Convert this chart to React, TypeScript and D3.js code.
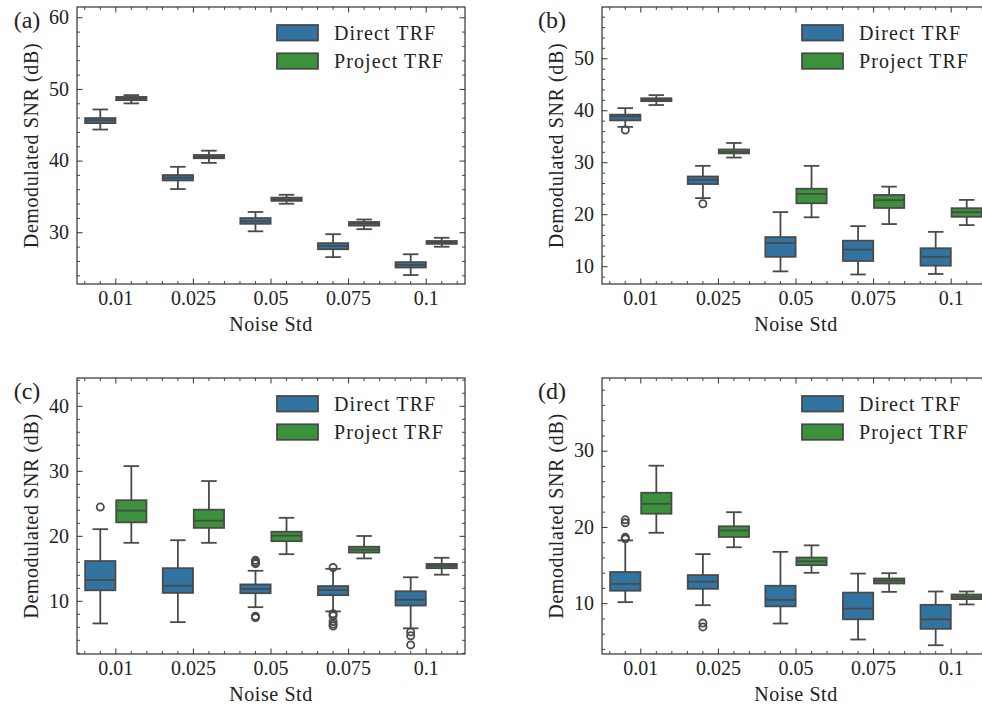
import * as d3 from 'd3';

const categories = ['0.01', '0.025', '0.05', '0.075', '0.1'];
const seriesNames = ['Direct TRF', 'Project TRF'];
const seriesColors = ['#3274a1', '#3a923a'];

// each row: [low whisker, q1, median, q3, high whisker]
const directA = [
  [44.4, 45.3, 45.7, 46.0, 47.2],
  [36.1, 37.3, 37.7, 38.05, 39.2],
  [30.2, 31.25, 31.6, 32.05, 32.9],
  [26.6, 27.7, 28.15, 28.55, 29.8],
  [24.1, 25.15, 25.5, 25.9, 27.0],
];
const projectA = [
  [48.05, 48.5, 48.75, 48.95, 49.2],
  [39.75, 40.4, 40.6, 40.85, 41.45],
  [34.05, 34.45, 34.65, 34.9, 35.3],
  [30.5, 31.0, 31.3, 31.5, 31.85],
  [28.05, 28.45, 28.65, 28.85, 29.3],
];
const directAFliers = [[], [], [], [], []];
const projectAFliers = [[], [], [], [], []];

const directB = [
  [36.9, 38.15, 38.9, 39.25, 40.5],
  [23.2, 25.9, 26.7, 27.35, 29.4],
  [9.1, 11.9, 14.55, 15.7, 20.5],
  [8.5, 11.1, 13.3, 15.0, 17.8],
  [8.6, 10.2, 11.9, 13.55, 16.7],
];
const projectB = [
  [41.1, 41.85, 42.1, 42.4, 43.0],
  [31.0, 31.8, 32.1, 32.55, 33.8],
  [19.5, 22.2, 24.0, 25.0, 29.4],
  [18.2, 21.3, 22.8, 23.8, 25.4],
  [18.0, 19.6, 20.5, 21.25, 22.85],
];
const directBFliers = [[36.3], [22.1], [], [], []];
const projectBFliers = [[], [], [], [], []];

const directC = [
  [6.6, 11.7, 13.3, 16.2, 21.1],
  [6.8, 11.3, 12.4, 15.1, 19.4],
  [9.1, 11.25, 11.9, 12.6, 14.7],
  [8.45, 10.95, 11.75, 12.35, 15.0],
  [5.85, 9.35, 10.25, 11.55, 13.7],
];
const projectC = [
  [19.0, 22.15, 23.95, 25.55, 30.8],
  [19.0, 21.3, 22.4, 24.1, 28.5],
  [17.25, 19.25, 20.1, 20.7, 22.85],
  [16.6, 17.5, 17.95, 18.4, 20.05],
  [14.1, 15.1, 15.45, 15.75, 16.7],
];
const directCFliers = [[24.5], [], [16.3, 16.0, 15.8, 7.7, 7.5], [15.2, 8.1, 7.8, 6.9, 6.5, 6.2], [5.3, 4.7, 3.3]];
const projectCFliers = [[], [], [], [], []];

const directD = [
  [10.2, 11.7, 12.6, 14.15, 18.3],
  [9.8, 11.95, 12.9, 13.75, 16.5],
  [7.4, 9.65, 10.5, 12.35, 16.8],
  [5.3, 7.95, 9.35, 11.45, 13.95],
  [4.55, 6.7, 7.95, 9.85, 11.6],
];
const projectD = [
  [19.3, 21.8, 23.1, 24.55, 28.1],
  [17.4, 18.75, 19.6, 20.15, 22.0],
  [14.05, 15.05, 15.55, 16.05, 17.65],
  [11.55, 12.65, 13.0, 13.3, 14.0],
  [9.9, 10.6, 10.9, 11.2, 11.6],
];
const directDFliers = [[21.0, 20.6, 18.7, 18.5], [7.45, 6.95], [], [], []];
const projectDFliers = [[], [], [], [], []];

const yTicksA = [30, 40, 50, 60];
const yTicksB = [10, 20, 30, 40, 50];
const yTicksC = [10, 20, 30, 40];
const yTicksD = [10, 20, 30];

const FONT = 'Liberation Serif';
const EDGE = '#4a4a4a';

type Stats = number[][];

function Panel(props: {
  label: string;
  left: number;
  top: number;
  right: number;
  bottom: number;
  domain: [number, number];
  ticks: number[];
  series: Stats[];
  fliers: number[][][];
}) {
  const { label, left, top, right, bottom, domain, ticks, series, fliers } = props;
  const x = d3.scaleLinear().domain([-0.5, categories.length - 0.5]).range([left, right]);
  const y = d3.scaleLinear().domain(domain).range([bottom, top]);

  const minorX = d3.range(-0.4, categories.length - 0.45, 0.2).filter(v => Math.abs(v - Math.round(v)) > 0.05);
  const minorY = d3.range(Math.ceil(domain[0] / 2) * 2, domain[1], 2).filter(v => v % 10 !== 0);

  const offsets = [-0.2, 0.2];
  const boxW = 0.39;
  const capW = 0.2;

  return (
    <g>
      {series.map((rows, s) =>
        rows.map((r, i) => {
          const cx = i + offsets[s];
          const [lo, q1, med, q3, hi] = r;
          const x0 = x(cx - boxW / 2);
          const x1 = x(cx + boxW / 2);
          return (
            <g key={`${s}-${i}`} stroke={EDGE} strokeWidth={1.8}>
              <line x1={x(cx)} x2={x(cx)} y1={y(lo)} y2={y(q1)} />
              <line x1={x(cx)} x2={x(cx)} y1={y(q3)} y2={y(hi)} />
              <line x1={x(cx - capW / 2)} x2={x(cx + capW / 2)} y1={y(lo)} y2={y(lo)} />
              <line x1={x(cx - capW / 2)} x2={x(cx + capW / 2)} y1={y(hi)} y2={y(hi)} />
              <rect x={x0} y={y(q3)} width={x1 - x0} height={y(q1) - y(q3)} fill={seriesColors[s]} />
              <line x1={x0} x2={x1} y1={y(med)} y2={y(med)} />
              {fliers[s][i].map((v, k) => (
                <circle key={k} cx={x(cx)} cy={y(v)} r={3.6} fill="none" />
              ))}
            </g>
          );
        })
      )}

      {/* frame */}
      <rect x={left} y={top} width={right - left} height={bottom - top} fill="none" stroke="#333" strokeWidth={1.2} />

      {/* x ticks */}
      {categories.map((c, i) => (
        <g key={c}>
          <line x1={x(i)} x2={x(i)} y1={bottom} y2={bottom - 5.5} stroke="#333" strokeWidth={1} />
          <line x1={x(i)} x2={x(i)} y1={top} y2={top + 5.5} stroke="#333" strokeWidth={1} />
          <text x={x(i)} y={bottom + 21} textAnchor="middle" fontFamily={FONT} fontSize={20} fill="#222">
            {c}
          </text>
        </g>
      ))}
      {minorX.map(v => (
        <g key={v}>
          <line x1={x(v)} x2={x(v)} y1={bottom} y2={bottom - 3} stroke="#333" strokeWidth={0.9} />
          <line x1={x(v)} x2={x(v)} y1={top} y2={top + 3} stroke="#333" strokeWidth={0.9} />
        </g>
      ))}

      {/* y ticks */}
      {ticks.map(t => (
        <g key={t}>
          <line x1={left} x2={left + 5.5} y1={y(t)} y2={y(t)} stroke="#333" strokeWidth={1} />
          <line x1={right} x2={right - 5.5} y1={y(t)} y2={y(t)} stroke="#333" strokeWidth={1} />
          <text x={left - 8} y={y(t) + 6.3} textAnchor="end" fontFamily={FONT} fontSize={20} fill="#222">
            {t}
          </text>
        </g>
      ))}
      {minorY.map(v => (
        <g key={v}>
          <line x1={left} x2={left + 3} y1={y(v)} y2={y(v)} stroke="#333" strokeWidth={0.9} />
          <line x1={right} x2={right - 3} y1={y(v)} y2={y(v)} stroke="#333" strokeWidth={0.9} />
        </g>
      ))}

      {/* labels */}
      <text x={(left + right) / 2} y={bottom + 46.5} textAnchor="middle" fontFamily={FONT} fontSize={20} letterSpacing={0.6} fill="#222">
        Noise Std
      </text>
      <text
        transform={`translate(${left - 39.5},${(top + bottom) / 2}) rotate(-90)`}
        textAnchor="middle"
        fontFamily={FONT}
        fontSize={20}
        letterSpacing={0.6}
        fill="#222"
      >
        Demodulated SNR (dB)
      </text>
      <text x={left - 50} y={top + 21} textAnchor="middle" fontFamily={FONT} fontSize={24} fill="#222">
        {label}
      </text>

      {/* legend */}
      {seriesNames.map((n, s) => (
        <g key={n}>
          <rect x={right - 188} y={top + 18 + s * 28.3} width={41} height={15.5} fill={seriesColors[s]} stroke={EDGE} strokeWidth={1.8} />
          <text x={right - 131} y={top + 33 + s * 28.3} fontFamily={FONT} fontSize={20} letterSpacing={1.1} fill="#222">
            {n}
          </text>
        </g>
      ))}
    </g>
  );
}

export default function App() {
  return (
    <svg
      width={982}
      height={707}
      viewBox="0 0 982 707"
      style={{ position: 'absolute', left: 0, top: 0, background: '#fff' }}
    >
      <rect width={982} height={707} fill="#fff" />
      <Panel label="(a)" left={77} top={7} right={465} bottom={284} domain={[22.85, 61.5]} ticks={yTicksA}
        series={[directA, projectA]} fliers={[directAFliers, projectAFliers]} />
      <Panel label="(b)" left={602} top={7} right={990} bottom={284} domain={[6.67, 59.96]} ticks={yTicksB}
        series={[directB, projectB]} fliers={[directBFliers, projectBFliers]} />
      <Panel label="(c)" left={77} top={378} right={465} bottom={654} domain={[1.9, 44.35]} ticks={yTicksC}
        series={[directC, projectC]} fliers={[directCFliers, projectCFliers]} />
      <Panel label="(d)" left={602} top={378} right={990} bottom={654} domain={[3.4, 39.6]} ticks={yTicksD}
        series={[directD, projectD]} fliers={[directDFliers, projectDFliers]} />
    </svg>
  );
}
